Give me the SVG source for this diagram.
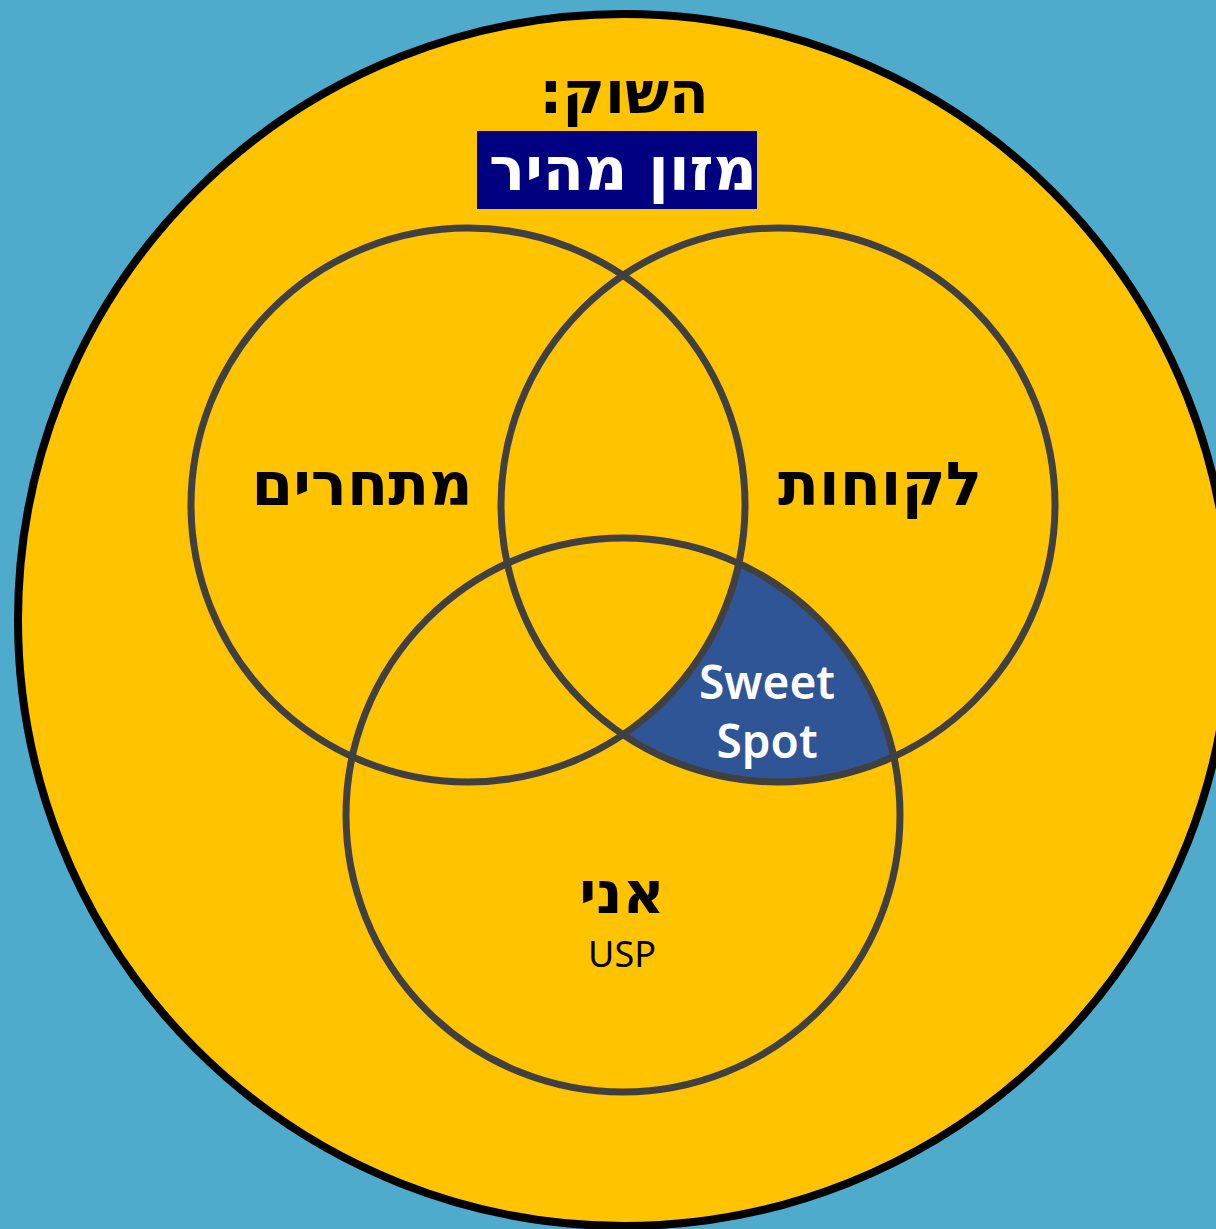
<svg xmlns="http://www.w3.org/2000/svg" width="1216" height="1229" viewBox="0 0 1216 1229">
  <style>
    .venn { fill: none; stroke: #404040; stroke-width: 7; }
    .heb { font-family: "DejaVu Sans", "Liberation Sans", sans-serif; text-anchor: middle; direction: rtl; font-weight: bold; }
    .lat { font-family: "Noto Sans", "Open Sans", sans-serif; text-anchor: middle; }
  </style>
  <rect id="background" x="0" y="0" width="1216" height="1229" fill="#4FABCC"/>
  <g id="market">
    <circle cx="624" cy="620" r="606" fill="#FFC300" stroke="#000000" stroke-width="8"/>
    <text class="heb" x="624" y="113" font-size="58" fill="#000000" direction="rtl">השוק:</text>
    <rect x="477" y="131" width="280" height="78" fill="#000080"/>
    <text class="heb" x="623" y="190" font-size="60" fill="#FFFFFF" direction="rtl">מזון מהיר</text>
  </g>
  <g id="sweet-spot">
    <path d="M 738.8 563.4 A 277 277 0 0 1 623 734.6 A 277 277 0 0 0 893.8 756.6 A 277 277 0 0 0 738.8 563.4 Z" fill="#2F5597"/>
  </g>
  <g id="competitors">
    <circle class="venn" cx="468" cy="505" r="277"/>
    <text class="heb" x="362" y="505" font-size="60" fill="#000000" direction="rtl">מתחרים</text>
  </g>
  <g id="customers">
    <circle class="venn" cx="778" cy="505" r="277"/>
    <text class="heb" x="880" y="505" font-size="60" fill="#000000" direction="rtl">לקוחות</text>
  </g>
  <g id="me">
    <circle class="venn" cx="623" cy="815" r="277"/>
    <text class="heb" x="622" y="913" font-size="58" fill="#000000" direction="rtl">אני</text>
    <text class="lat" x="622" y="967" font-size="36" fill="#000000">USP</text>
  </g>
  <g id="sweet-spot-label">
    <text class="lat" x="767" y="699" font-size="46" font-weight="600" fill="#FFFFFF">Sweet</text>
    <text class="lat" x="767" y="758" font-size="46" font-weight="600" fill="#FFFFFF">Spot</text>
  </g>
  <g id="connectors"/>
</svg>
